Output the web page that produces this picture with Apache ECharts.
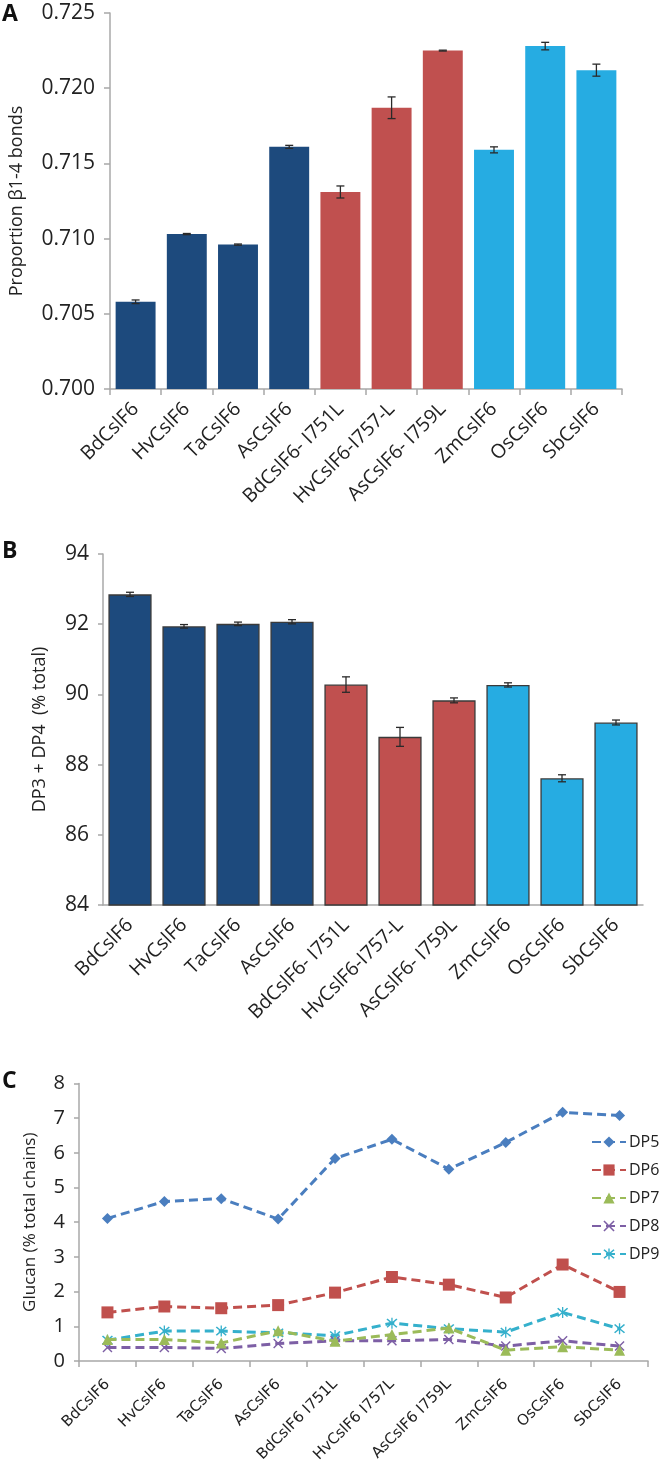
<!DOCTYPE html>
<html>
<head>
<meta charset="utf-8">
<script src="https://cdn.jsdelivr.net/npm/echarts@6/dist/echarts.min.js"></script>
<style>
html,body{margin:0;padding:0;background:#fff;}
#main{width:660px;height:1465px;}
</style>
</head>
<body>
<div id="main"></div>
<script>
// ---------- DATA ----------
const catsAB = ['BdCslF6','HvCslF6','TaCslF6','AsCslF6','BdCslF6- I751L','HvCslF6-I757-L','AsCslF6- I759L','ZmCslF6','OsCslF6','SbCslF6'];
const catsC = ['BdCslF6','HvCslF6','TaCslF6','AsCslF6','BdCslF6 I751L','HvCslF6 I757L','AsCslF6 I759L','ZmCslF6','OsCslF6','SbCslF6'];
const groupOf = [0,0,0,0,1,1,1,2,2,2];

const propBonds = [0.7058,0.7103,0.7096,0.7161,0.7131,0.7187,0.7225,0.7159,0.7228,0.7212];
const propBondsErr = [0.00012,0.00004,0.00004,0.0001,0.0004,0.00072,0.00003,0.0002,0.00025,0.0004];

const dp34 = [92.85,91.94,92.01,92.07,90.28,88.79,89.83,90.27,87.61,89.20];
const dp34Err = [0.06,0.05,0.05,0.06,0.22,0.27,0.07,0.06,0.10,0.07];

const dp5 = [4.11,4.60,4.68,4.09,5.84,6.39,5.53,6.30,7.17,7.08];
const dp6 = [1.40,1.57,1.52,1.61,1.97,2.42,2.20,1.83,2.78,1.99];
const dp7 = [0.62,0.62,0.52,0.87,0.57,0.76,0.95,0.31,0.41,0.31];
const dp8 = [0.39,0.39,0.36,0.50,0.58,0.58,0.62,0.43,0.58,0.43];
const dp9 = [0.60,0.86,0.86,0.81,0.73,1.09,0.93,0.83,1.40,0.93];
const seriesNamesC = ['DP5','DP6','DP7','DP8','DP9'];

const ticksA = {min:0.700, max:0.725, interval:0.005};
const ticksB = {min:84, max:94, interval:2};
const ticksC = {min:0, max:8, interval:1};

// ---------- STYLE ----------
const groupColors = ['#1d4a7d','#c0504f','#26ace2'];
const lineColors = ['#4a7ebf','#c0504d','#9bbb59','#7d5fa5','#35b0cc'];
const FONT = 'Open Sans';
const txt = '#222';
const axisGrey = '#a8a8a8';

const xPath = 'path://M1,0 L5,4 L9,0 L10,1 L6,5 L10,9 L9,10 L5,6 L1,10 L0,9 L4,5 L0,1 Z';
const starPath = 'path://M1,0 L5,4 L9,0 L10,1 L6,5 L10,9 L9,10 L5,6 L1,10 L0,9 L4,5 L0,1 Z M4.4,-1 L5.6,-1 L5.6,11 L4.4,11 Z';
const symbols = ['diamond','rect','triangle',xPath,starPath];
const symSizes = [11,12,11,10,11];

function errSeries(gi, vals, errs, cap) {
  return {
    type:'custom', xAxisIndex:gi, yAxisIndex:gi, z:10, silent:true,
    data: vals.map((v,i)=>[i, v-errs[i], v+errs[i]]),
    encode:{x:0, y:[1,2]},
    renderItem:(params, api)=>{
      const lo = api.coord([api.value(0), api.value(1)]);
      const hi = api.coord([api.value(0), api.value(2)]);
      const st = {stroke:'#2a2a2a', lineWidth:1.3};
      return {type:'group', children:[
        {type:'line', shape:{x1:lo[0],y1:lo[1],x2:hi[0],y2:hi[1]}, style:st},
        {type:'line', shape:{x1:lo[0]-cap,y1:lo[1],x2:lo[0]+cap,y2:lo[1]}, style:st},
        {type:'line', shape:{x1:hi[0]-cap,y1:hi[1],x2:hi[0]+cap,y2:hi[1]}, style:st}
      ]};
    }
  };
}

const chart = echarts.init(document.getElementById('main'), null, {renderer:'canvas'});

const option = {
  backgroundColor:'#fff',
  animation:false,
  textStyle:{fontFamily:FONT, color:txt},
  graphic:[
    {type:'text', left:2, top:3, style:{text:'A', font:'bold 23px "Open Sans"', fill:'#111'}},
    {type:'text', left:2, top:540, style:{text:'B', font:'bold 23px "Open Sans"', fill:'#111'}},
    {type:'text', left:2, top:1070, style:{text:'C', font:'bold 23px "Open Sans"', fill:'#111'}}
  ],
  grid:[
    {left:108, right:38, top:13, height:376},
    {left:103, right:17, top:554, height:351},
    {left:79, right:12, top:1083.5, height:281}
  ],
  xAxis:[
    {gridIndex:0, type:'category', data:catsAB,
     axisLine:{lineStyle:{color:axisGrey, width:1.5}},
     axisTick:{show:true, length:6, alignWithLabel:false, lineStyle:{color:axisGrey, width:1.5}},
     axisLabel:{rotate:45, margin:17, fontSize:19.5, color:txt, fontFamily:FONT, interval:0}},
    {gridIndex:1, type:'category', data:catsAB,
     axisLine:{lineStyle:{color:axisGrey, width:1.5}},
     axisTick:{show:false},
     axisLabel:{rotate:45, margin:17, fontSize:19.5, color:txt, fontFamily:FONT, interval:0}},
    {gridIndex:2, type:'category', data:catsC,
     axisLine:{lineStyle:{color:axisGrey, width:1.5}},
     axisTick:{show:true, length:6, lineStyle:{color:axisGrey, width:1.5}},
     axisLabel:{rotate:45, margin:21, fontSize:15, color:txt, fontFamily:'DejaVu Sans', interval:0}}
  ],
  yAxis:[
    {gridIndex:0, type:'value', min:ticksA.min, max:ticksA.max, interval:ticksA.interval,
     name:'Proportion β1-4 bonds', nameLocation:'middle', nameGap:84,
     nameTextStyle:{fontSize:18, color:txt, fontFamily:FONT},
     axisLine:{show:true, lineStyle:{color:axisGrey, width:1.5}},
     axisTick:{show:true, length:6, lineStyle:{color:axisGrey, width:1.5}},
     splitLine:{show:false},
     axisLabel:{fontSize:21, color:txt, fontFamily:FONT, margin:15, formatter:v=>v.toFixed(3)}},
    {gridIndex:1, type:'value', min:ticksB.min, max:ticksB.max, interval:ticksB.interval,
     name:'DP3 + DP4  (% total)', nameLocation:'middle', nameGap:54,
     nameTextStyle:{fontSize:18, color:txt, fontFamily:FONT},
     axisLine:{show:true, lineStyle:{color:axisGrey, width:1.5}},
     axisTick:{show:true, length:5, lineStyle:{color:axisGrey, width:1.5}},
     splitLine:{show:false},
     axisLabel:{fontSize:21, color:txt, fontFamily:FONT, margin:14}},
    {gridIndex:2, type:'value', min:ticksC.min, max:ticksC.max, interval:ticksC.interval,
     name:'Glucan (% total chains)', nameLocation:'middle', nameGap:40,
     nameTextStyle:{fontSize:17, color:txt, fontFamily:FONT},
     axisLine:{show:true, lineStyle:{color:axisGrey, width:1.5}},
     axisTick:{show:true, length:5, lineStyle:{color:axisGrey, width:1.5}},
     splitLine:{show:false},
     axisLabel:{fontSize:20, color:txt, fontFamily:FONT, margin:14}}
  ],
  legend:{
    show:true, orient:'vertical', left:586, top:1129, itemGap:12, itemWidth:34, itemHeight:14,
    textStyle:{fontSize:16, color:txt, fontFamily:FONT, padding:[0,0,0,-2]},
    data: seriesNamesC
  },
  series:[
    {type:'bar', xAxisIndex:0, yAxisIndex:0, barCategoryGap:'22%',
     data: propBonds.map((v,i)=>({value:v, itemStyle:{color:groupColors[groupOf[i]]}}))},
    errSeries(0, propBonds, propBondsErr, 4),
    {type:'bar', xAxisIndex:1, yAxisIndex:1, barCategoryGap:'20%',
     data: dp34.map((v,i)=>({value:v, itemStyle:{color:groupColors[groupOf[i]], borderColor:'#3a3a3a', borderWidth:1.3}}))},
    errSeries(1, dp34, dp34Err, 4),
  ].concat([dp5,dp6,dp7,dp8,dp9].map((arr,k)=>({
    type:'line', name:seriesNamesC[k], xAxisIndex:2, yAxisIndex:2, data:arr,
    symbol:symbols[k], symbolSize:symSizes[k], showSymbol:true,
    lineStyle:{color:lineColors[k], width:3, type:[9,5]},
    itemStyle:{color:lineColors[k]},
    z: 5 - k
  })))
};
chart.setOption(option);
</script>
</body>
</html>
